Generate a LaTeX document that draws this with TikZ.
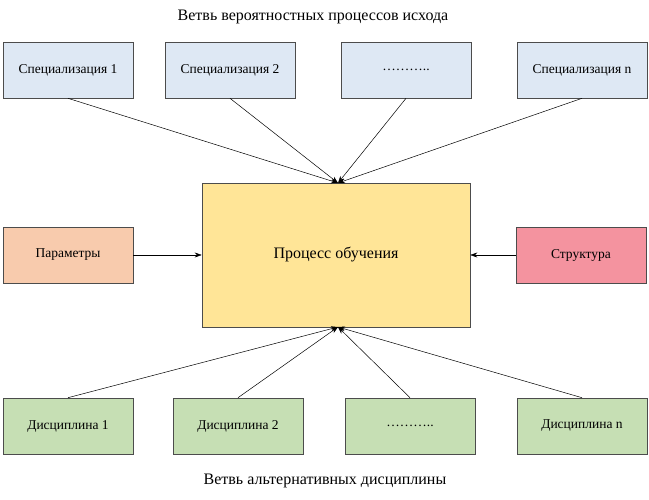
\documentclass[tikz,border=0pt]{standalone}
\usepackage{fontspec}
\setmainfont{Liberation Serif}
\usetikzlibrary{arrows.meta}
\definecolor{cblue}{HTML}{DEE8F4}
\definecolor{corange}{HTML}{F8CBAD}
\definecolor{cpink}{HTML}{F4939F}
\definecolor{cyellow}{HTML}{FFE597}
\definecolor{cgreen}{HTML}{C6DFB4}
\begin{document}
\begin{tikzpicture}[x=1pt,y=-1pt,
  box/.style={draw=black!70,line width=0.6pt,minimum width=130pt,minimum height=56pt,inner sep=0pt,font=\fontsize{13.5}{15}\selectfont},
  arr/.style={-{Stealth[length=7pt,width=5pt]},line width=0.5pt}]
\useasboundingbox (0,0) rectangle (649,500);
\node (t) at (313,17) {\fontsize{16}{18}\selectfont Ветвь вероятностных процессов исхода};
\node (b) at (325,481) {\fontsize{16}{18}\selectfont Ветвь альтернативных дисциплины};
\node[box,fill=cblue] (s1) at (68,70) {Специализация 1};
\node[box,fill=cblue] (s2) at (230,70) {Специализация 2};
\node[box,fill=cblue] (s3) at (406,70) {………..};
\node[box,fill=cblue] (s4) at (582,70) {Специализация n};
\node[box,fill=cyellow,minimum width=268pt,minimum height=144pt,font=\fontsize{16}{18}\selectfont] (c) at (336,255) {Процесс обучения};
\node[box,fill=corange] (p) at (68,255) {Параметры};
\node[box,fill=cpink] (st) at (581,255) {Структура};
\node[box,fill=cgreen] (d1) at (68,426) {Дисциплина 1};
\node[box,fill=cgreen] (d2) at (238,426) {Дисциплина 2};
\node[box,fill=cgreen] (d3) at (410,426) {………..};
\node[box,fill=cgreen] (d4) at (582,426) {Дисциплина n};
\coordinate (ct) at (338,183);
\coordinate (cb) at (338,327);
\foreach \n in {s1,s2,s3,s4} \draw[arr] (\n.south) -- (ct);
\foreach \n in {d1,d2,d3,d4} \draw[arr] (\n.north) -- (cb);
\draw[arr] (p) -- (c);
\draw[arr] (st) -- (c);
\end{tikzpicture}
\end{document}
